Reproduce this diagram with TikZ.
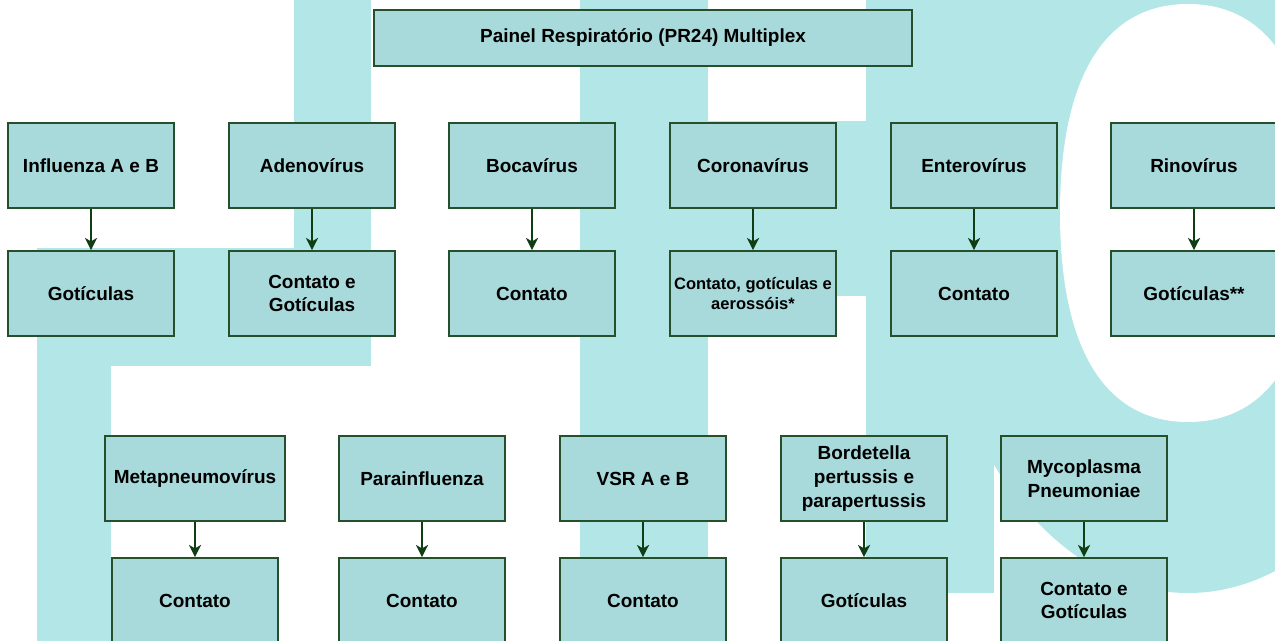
\documentclass[tikz,border=0pt]{standalone}
\usepackage{fontspec}
\setmainfont{Liberation Sans}
\usepackage{tikz}
\usetikzlibrary{arrows.meta}
\definecolor{marca}{HTML}{B3E6E6}
\definecolor{caixa}{HTML}{A8DADC}
\definecolor{borda}{HTML}{264F2C}
\definecolor{seta}{HTML}{103E14}

\begin{document}
\begin{tikzpicture}[x=0.02cm,y=-0.02cm,
  agente/.style={draw=borda,fill=caixa,line width=0.95pt,minimum width=3.32cm,minimum height=1.7cm,inner sep=0pt,align=center,font=\fontsize{10.8}{13.6}\selectfont\bfseries},
  menor/.style={font=\fontsize{9.4}{11.9}\selectfont\bfseries},
  ligacao/.style={draw=seta,line width=0.8pt,-{Stealth[length=7pt,width=7pt,inset=2pt]}}]
\useasboundingbox (0,0) rectangle (1275,641);
\clip (0,0) rectangle (1275,641);
\fill[marca] (294,0) rectangle (371,366);
\fill[marca] (37,248) rectangle (371,366);
\fill[marca] (37,248) rectangle (111,641);
\fill[marca] (580,0) rectangle (708,641);
\fill[marca] (708,121) rectangle (866,296);
\fill[marca] (866,0) rectangle (994,593);
\fill[marca] (1188,213) ellipse [x radius=259, y radius=380];
\fill[white] (1060,213) .. controls (1060,77) and (1105,4) .. (1188,4) .. controls (1271,4) and (1316,77) .. (1316,213) .. controls (1316,349) and (1271,422) .. (1188,422) .. controls (1105,422) and (1060,349) .. (1060,213) -- cycle;

\node[agente,minimum width=10.76cm,minimum height=1.12cm] (titulo) at (643,38) {Painel Respiratório (PR24) Multiplex};

\node[agente] (inf) at (91,165.5) {Influenza A e B};
\node[agente] (adeno) at (312,165.5) {Adenovírus};
\node[agente] (boca) at (532,165.5) {Bocavírus};
\node[agente] (corona) at (753,165.5) {Coronavírus};
\node[agente] (entero) at (974,165.5) {Enterovírus};
\node[agente] (rino) at (1194,165.5) {Rinovírus};

\node[agente] (infT) at (91,293.5) {Gotículas};
\node[agente] (adenoT) at (312,293.5) {Contato e\\Gotículas};
\node[agente] (bocaT) at (532,293.5) {Contato};
\node[agente,menor] (coronaT) at (753,293.5) {Contato, gotículas e\\aerossóis*};
\node[agente] (enteroT) at (974,293.5) {Contato};
\node[agente] (rinoT) at (1194,293.5) {Gotículas**};

\node[agente,minimum width=3.6cm] (meta) at (195,478.5) {Metapneumovírus};
\node[agente] (para) at (422,478.5) {Parainfluenza};
\node[agente] (vsr) at (643,478.5) {VSR A e B};
\node[agente] (borde) at (864,478.5) {Bordetella\\pertussis e\\parapertussis};
\node[agente] (myco) at (1084,478.5) {Mycoplasma\\Pneumoniae};

\node[agente] (metaT) at (195,600.5) {Contato};
\node[agente] (paraT) at (422,600.5) {Contato};
\node[agente] (vsrT) at (643,600.5) {Contato};
\node[agente] (bordeT) at (864,600.5) {Gotículas};
\node[agente] (mycoT) at (1084,600.5) {Contato e\\Gotículas};

\draw[ligacao] (inf) -- (infT);
\draw[ligacao] (adeno) -- (adenoT);
\draw[ligacao] (boca) -- (bocaT);
\draw[ligacao] (corona) -- (coronaT);
\draw[ligacao] (entero) -- (enteroT);
\draw[ligacao] (rino) -- (rinoT);
\draw[ligacao] (meta) -- (metaT);
\draw[ligacao] (para) -- (paraT);
\draw[ligacao] (vsr) -- (vsrT);
\draw[ligacao] (borde) -- (bordeT);
\draw[ligacao] (myco) -- (mycoT);
\end{tikzpicture}
\end{document}
